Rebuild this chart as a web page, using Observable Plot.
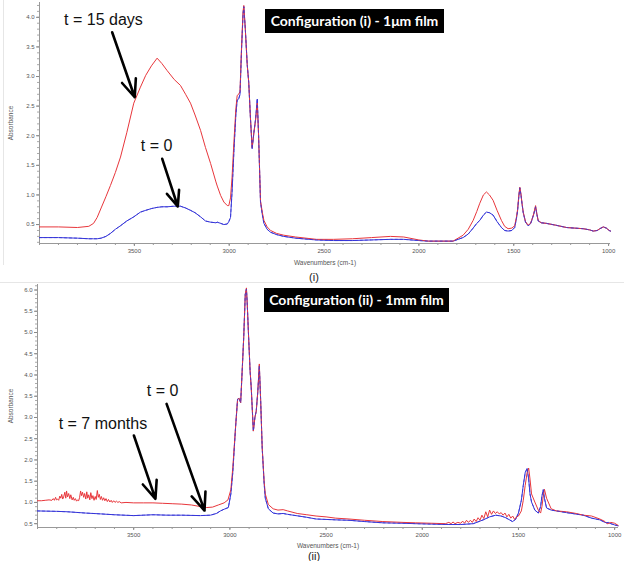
<!DOCTYPE html>
<html><head><meta charset="utf-8">
<script src="https://cdn.jsdelivr.net/npm/d3@7"></script>
<script src="https://cdn.jsdelivr.net/npm/@observablehq/plot@0.6"></script>
<style>
body{margin:0;background:#fff;}
#root{position:relative;width:632px;height:561px;overflow:hidden;font-family:"Liberation Sans",Arial,sans-serif;background:#fff;}
.panel{position:absolute;left:0;}
.box{position:absolute;background:#000;color:#fff;font-family:Lato,"Open Sans",sans-serif;font-weight:bold;font-size:14px;line-height:24px;height:24px;white-space:nowrap;text-align:center;}
.cap{position:absolute;font-size:11px;color:#222;transform:translate(-50%,-50%);}
.sep{position:absolute;background:#e6e6e6;}
</style></head><body><div id="root">
<div class="sep" style="left:3px;top:0;width:1px;height:265px"></div>
<div class="sep" style="left:0;top:282px;width:624px;height:1px"></div>
<div id="p1" class="panel" style="top:0"></div>
<div id="p2" class="panel" style="top:280px"></div>
<div class="box" style="left:265px;top:9px;width:179px">Configuration (i) - 1μm film</div>
<div class="box" style="left:264px;top:288px;width:185px">Configuration (ii) - 1mm film</div>
<div class="cap" style="left:314px;top:277px">(i)</div>
<div class="cap" style="left:314px;top:556px">(ii)</div>
</div>
<script>
// ---------- Panel (i): 1 µm film ----------
const p1Wavenumber = [4000,3900,3800,3740,3715,3696,3675,3650,3626,3600,3573,3540,3503,3468,3440,3410,3380,3355,3327,3290,3257,3230,3204,3180,3151,3125,3098,3070,3063,3045,3028,3010,3002,2993,2985,2975,2965,2958,2950,2943,2935,2927,2923,2915,2905,2897,2888,2879,2870,2861,2852,2845,2835,2825,2817,2800,2782,2750,2712,2650,2540,2450,2350,2250,2150,2080,2000,1950,1900,1820,1767,1740,1714,1695,1679,1660,1644,1628,1609,1588,1565,1548,1530,1510,1495,1486,1480,1473,1468,1462,1456,1450,1438,1424,1412,1406,1395,1385,1378,1371,1355,1328,1280,1222,1180,1134,1100,1081,1060,1046,1028,1012,997,990];
const p1T15days = [0.46,0.46,0.45,0.47,0.52,0.62,0.78,0.97,1.16,1.38,1.64,2.05,2.55,2.82,3.02,3.18,3.31,3.22,3.10,2.95,2.85,2.70,2.55,2.35,2.09,1.80,1.53,1.22,1.15,0.99,0.88,0.82,0.82,0.95,1.30,1.90,2.45,2.68,2.70,2.75,3.50,4.10,4.20,3.80,3.20,2.90,2.30,1.80,2.05,2.26,2.55,2.00,0.90,0.70,0.57,0.46,0.40,0.35,0.32,0.29,0.25,0.25,0.26,0.28,0.30,0.29,0.24,0.22,0.22,0.22,0.32,0.42,0.57,0.72,0.86,1.00,1.05,1.00,0.91,0.74,0.57,0.47,0.43,0.44,0.48,0.62,0.75,1.00,1.13,1.02,0.85,0.71,0.55,0.49,0.52,0.57,0.68,0.82,0.68,0.57,0.53,0.52,0.49,0.45,0.44,0.43,0.41,0.39,0.40,0.43,0.46,0.44,0.40,0.39];
const p1T0 = [0.28,0.28,0.27,0.26,0.26,0.26,0.27,0.30,0.35,0.42,0.48,0.56,0.63,0.71,0.74,0.77,0.79,0.80,0.80,0.81,0.81,0.78,0.74,0.70,0.63,0.56,0.54,0.53,0.54,0.52,0.50,0.51,0.55,0.62,1.05,1.75,2.35,2.60,2.62,2.70,3.45,4.05,4.18,3.80,3.20,2.90,2.30,1.78,2.05,2.28,2.62,2.00,0.88,0.66,0.52,0.42,0.37,0.33,0.30,0.27,0.24,0.23,0.23,0.24,0.25,0.25,0.23,0.22,0.22,0.22,0.28,0.34,0.44,0.52,0.57,0.66,0.71,0.70,0.66,0.55,0.45,0.40,0.39,0.40,0.45,0.60,0.73,0.98,1.12,1.00,0.84,0.70,0.54,0.48,0.51,0.56,0.67,0.80,0.67,0.56,0.53,0.52,0.49,0.45,0.44,0.43,0.41,0.39,0.40,0.43,0.46,0.44,0.40,0.39];

// ---------- Panel (ii): 1 mm film ----------
const p2T7monthsWn = [4000,3980,3960,3940,
  3925,3918,3912,3906,3901,3896,3890,3884,3879,3874,3869,3864,3858,3853,3849,3844,3838,3832,3827,3820,3814,3809,3803,3797,3791,3786,3781,3776,3771,3766,3760,3755,3749,3744,3739,3734,3728,3723,3717,3712,3706,3700,3695,3689,3684,3679,3673,3668,3662,3656,3650,3644,3637,3631,3624,3617,3611,3604,3597,3590,3582,3575,3565,
  3540,3500,3450,3400,3350,3300,3250,3200,3150,3120,3090,3060,3030,3010,2995,2985,2970,2960,2952,2944,2935,2928,2920,2914,2910,2904,2895,2889,2878,2870,2863,2855,2847,2840,2832,2822,2816,2800,2775,2750,2723,2700,2650,2600,2552,2500,2450,2381,2300,2205,2100,2034,1950,1880,1862,1850,1840,1830,1815,1800,1790,1780,1770,1760,1750,1740,1730,1720,1710,1700,1690,1680,1670,1660,1650,1640,1630,1620,1610,1600,1590,1580,1570,1560,1550,1540,1530,1520,1510,1500,1485,1475,1465,1455,1447,1440,1432,1415,1397,1385,1378,1371,1365,1354,1330,1302,1250,1200,1163,1120,1077,1050,1040,1034,1020,1000,982];
const p2T7months = [1.04,1.04,1.05,1.06,
  1.05,1.09,1.05,1.12,1.06,1.08,1.05,1.15,1.10,1.19,1.08,1.13,1.24,1.10,1.27,1.13,1.21,1.09,1.18,1.06,1.12,1.05,1.09,1.03,1.06,1.04,1.12,1.27,1.16,1.24,1.12,1.21,1.08,1.25,1.10,1.18,1.06,1.23,1.09,1.16,1.05,1.14,1.07,1.28,1.12,1.19,1.07,1.14,1.05,1.11,1.04,1.09,1.02,1.07,1.01,1.05,1.00,1.04,1.00,1.03,1.00,1.02,0.99,
  1.00,0.99,0.99,0.99,0.98,0.97,0.96,0.94,0.90,0.88,0.89,0.94,0.99,1.06,1.30,1.81,2.80,3.43,3.45,3.35,4.20,4.90,5.90,6.05,5.70,5.04,4.10,3.70,2.68,3.00,3.15,3.60,4.26,3.40,2.28,1.50,1.20,0.95,0.85,0.82,0.83,0.80,0.74,0.71,0.68,0.66,0.63,0.61,0.58,0.55,0.53,0.52,0.51,0.50,0.53,0.50,0.54,0.50,0.53,0.51,0.56,0.51,0.58,0.53,0.58,0.53,0.61,0.55,0.64,0.58,0.70,0.62,0.78,0.66,0.82,0.72,0.80,0.74,0.78,0.73,0.76,0.70,0.75,0.66,0.72,0.63,0.68,0.60,0.66,0.68,0.80,1.05,1.40,1.70,1.81,1.55,1.20,1.01,0.82,0.75,0.90,1.15,1.31,1.10,0.85,0.80,0.78,0.74,0.70,0.68,0.61,0.55,0.50,0.50,0.53,0.51,0.46,0.42];
const p2T0Wn = [4000,3900,3844,3750,3671,3600,3500,3450,3400,3324,3250,3153,3101,3070,3049,3030,3008,2995,2985,2970,2960,2952,2944,2935,2928,2920,2914,2910,2904,2895,2889,2878,2870,2863,2855,2847,2840,2832,2822,2816,2800,2775,2750,2723,2700,2600,2552,2450,2381,2300,2205,2100,2034,1950,1862,1800,1735,1683,1650,1618,1590,1566,1531,1515,1500,1485,1475,1465,1455,1447,1440,1432,1415,1397,1385,1378,1371,1365,1354,1330,1302,1250,1163,1120,1077,1050,1040,1034,1020,1000,982];
const p2T0 = [0.80,0.79,0.78,0.75,0.73,0.71,0.69,0.70,0.71,0.70,0.70,0.69,0.70,0.74,0.80,0.84,0.88,1.20,1.70,2.80,3.43,3.45,3.35,4.20,4.90,5.90,6.02,5.70,5.04,4.10,3.70,2.68,3.00,3.15,3.60,4.22,3.40,2.28,1.45,1.10,0.85,0.75,0.73,0.74,0.72,0.65,0.61,0.59,0.58,0.55,0.52,0.51,0.50,0.49,0.48,0.48,0.50,0.59,0.66,0.70,0.68,0.64,0.55,0.60,0.75,1.05,1.40,1.70,1.80,1.55,1.20,1.01,0.82,0.75,0.90,1.15,1.30,1.10,0.87,0.82,0.80,0.76,0.70,0.63,0.59,0.53,0.52,0.53,0.50,0.47,0.45];

// axis ticks
const xMajorTicks = [3500,3000,2500,2000,1500,1000];
const xMinorTicks = d3.range(1000, 4001, 100);
const p1YMajorTicks = [0.5,1.0,1.5,2.0,2.5,3.0,3.5,4.0];
const p1YMinorTicks = d3.range(2, 43).map(d => d / 10);
const p2YMajorTicks = [0.5,1.0,1.5,2.0,2.5,3.0,3.5,4.0,4.5,5.0,5.5,6.0];
const p2YMinorTicks = d3.range(5, 62).map(d => d / 10);

// annotations (data coordinates: wavenumber, absorbance)
const p1Labels = [{wn: 3663, a: 3.965, text: "t = 15 days"}, {wn: 3383, a: 1.835, text: "t = 0"}];
const p1Arrows = [{wn1: 3617, a1: 3.748, wn2: 3498, a2: 2.65}, {wn1: 3353, a1: 1.61, wn2: 3271, a2: 0.805}];
const p2Labels = [{wn: 3350, a: 3.635, text: "t = 0"}, {wn: 3660, a: 2.858, text: "t = 7 months"}];
const p2Arrows = [{wn1: 3329, a1: 3.32, wn2: 3132, a2: 0.81}, {wn1: 3499, a1: 2.575, wn2: 3387, a2: 1.085}];

const RED = "#e8363b", BLUE = "#3434d8";
const FONT = "Liberation Sans, Arial, sans-serif";

function zip(wn, vals) { return wn.map((w, i) => ({wn: w, a: vals[i]})); }

function makePanel(o) {
  const red = zip(o.redWn, o.red), blue = zip(o.blueWn, o.blue);
  return Plot.plot({
    width: 632, height: o.height,
    marginTop: o.mt, marginBottom: o.mb, marginLeft: o.ml, marginRight: o.mr,
    style: {fontFamily: FONT, background: "transparent", overflow: "visible"},
    x: {domain: o.xDomain},
    y: {domain: o.yDomain},
    marks: [
      Plot.axisX({ticks: xMinorTicks, tickSize: 2, tickFormat: () => "", stroke: "#999", label: null}),
      Plot.axisX({ticks: xMajorTicks, tickSize: 3, tickPadding: 2, tickFormat: d => String(d), fontSize: 6, fill: "#555", stroke: "#888", label: null}),
      Plot.axisY({ticks: o.yMinor, tickSize: 2, tickFormat: () => "", stroke: "#aaa", label: null}),
      Plot.axisY({ticks: o.yMajor, tickSize: 3, tickPadding: 2, tickFormat: d3.format(".1f"), fontSize: 6, fill: "#555", stroke: "#888", label: null}),
      Plot.ruleX([o.xDomain[0]], {stroke: "#999"}),
      Plot.ruleY([o.yDomain[0]], {stroke: "#999"}),
      Plot.text(["Absorbance"], {text: d => d, frameAnchor: "left", dx: -(o.ml - 10), rotate: -90, textAnchor: "middle", lineAnchor: "middle", fontSize: 6.5, fill: "#555"}),
      Plot.text(["Wavenumbers (cm-1)"], {text: d => d, frameAnchor: "bottom", dy: o.xlabDy, textAnchor: "middle", lineAnchor: "middle", fontSize: 6.5, fill: "#555"}),
      Plot.line(blue, {x: "wn", y: "a", stroke: BLUE, strokeWidth: 1}),
      Plot.line(red, {x: "wn", y: "a", stroke: RED, strokeWidth: 1}),
      Plot.line(blue, {x: "wn", y: "a", stroke: BLUE, strokeWidth: 1, strokeDasharray: "2,3", strokeOpacity: 0.75}),
      Plot.arrow(o.arrows, {x1: "wn1", y1: "a1", x2: "wn2", y2: "a2", stroke: "#000", strokeWidth: 2.6, headLength: 11, headAngle: 45}),
      Plot.text(o.labels, {x: "wn", y: "a", text: "text", fontSize: 16, fill: "#111", fontFamily: FONT, lineAnchor: "middle"})
    ]
  });
}

document.getElementById("p1").append(makePanel({
  height: 268, mt: 2, mb: 25, ml: 39, mr: 22,
  xDomain: [4000, 990], yDomain: [0.18, 4.25],
  redWn: p1Wavenumber, red: p1T15days, blueWn: p1Wavenumber, blue: p1T0,
  yMajor: p1YMajorTicks, yMinor: p1YMinorTicks,
  labels: p1Labels, arrows: p1Arrows, xlabDy: 19
}));
document.getElementById("p2").append(makePanel({
  height: 270, mt: 4, mb: 23, ml: 37, mr: 14,
  xDomain: [4000, 980], yDomain: [0.41, 6.13],
  redWn: p2T7monthsWn, red: p2T7months, blueWn: p2T0Wn, blue: p2T0,
  yMajor: p2YMajorTicks, yMinor: p2YMinorTicks,
  labels: p2Labels, arrows: p2Arrows, xlabDy: 18
}));
</script>
</body></html>
